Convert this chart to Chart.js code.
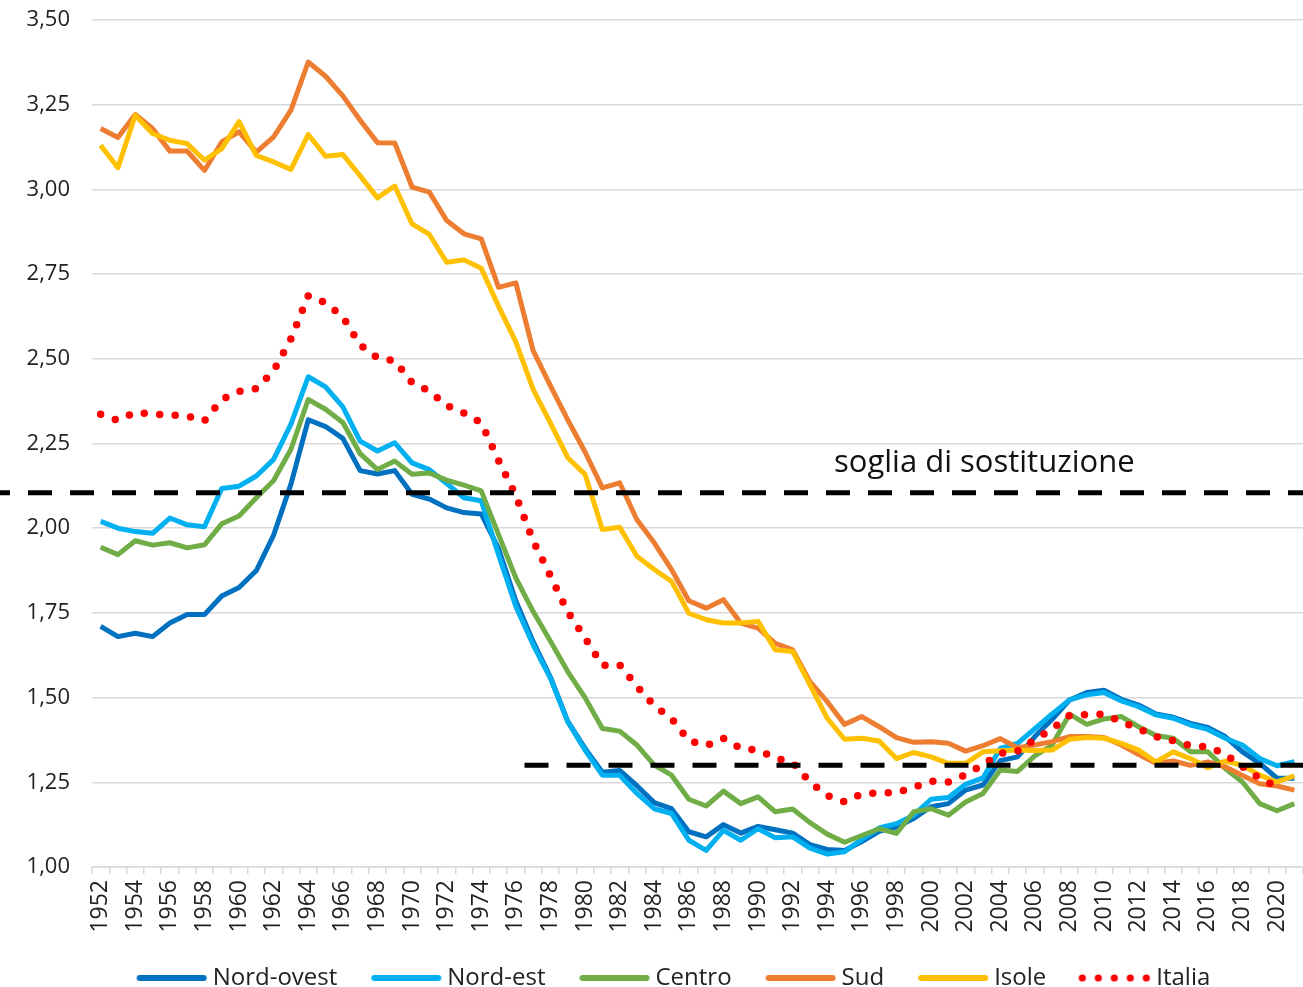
<!DOCTYPE html>
<html>
<head>
<meta charset="utf-8">
<script src="https://cdn.jsdelivr.net/npm/chart.js@4.4.1/dist/chart.umd.min.js"></script>
<style>
  html, body { margin: 0; padding: 0; background: #fff; overflow: hidden; }
  #wrap { width: 1303px; height: 987px; }
</style>
</head>
<body>
<div id="wrap"><canvas id="myChart"></canvas></div>
<script>
// anni
const years = [1952, 1953, 1954, 1955, 1956, 1957, 1958, 1959, 1960, 1961,
  1962, 1963, 1964, 1965, 1966, 1967, 1968, 1969, 1970, 1971,
  1972, 1973, 1974, 1975, 1976, 1977, 1978, 1979, 1980, 1981,
  1982, 1983, 1984, 1985, 1986, 1987, 1988, 1989, 1990, 1991,
  1992, 1993, 1994, 1995, 1996, 1997, 1998, 1999, 2000, 2001,
  2002, 2003, 2004, 2005, 2006, 2007, 2008, 2009, 2010, 2011,
  2012, 2013, 2014, 2015, 2016, 2017, 2018, 2019, 2020, 2021];

// numero medio di figli per donna
const nordOvest = [1.71, 1.68, 1.69, 1.68, 1.72, 1.745, 1.745, 1.80, 1.825, 1.875,
  1.98, 2.13, 2.32, 2.30, 2.265, 2.17, 2.16, 2.17, 2.10, 2.086,
  2.06, 2.046, 2.042, 1.94, 1.785, 1.665, 1.56, 1.43, 1.35, 1.28,
  1.285, 1.24, 1.19, 1.172, 1.104, 1.089, 1.125, 1.10, 1.12, 1.11,
  1.10, 1.066, 1.052, 1.049, 1.075, 1.105, 1.118, 1.143, 1.178, 1.187,
  1.227, 1.242, 1.314, 1.325, 1.385, 1.436, 1.493, 1.515, 1.522, 1.495,
  1.478, 1.452, 1.442, 1.424, 1.412, 1.385, 1.34, 1.306, 1.262, 1.262];

const nordEst = [2.02, 2.00, 1.99, 1.985, 2.03, 2.01, 2.004, 2.117, 2.124, 2.154,
  2.203, 2.307, 2.447, 2.417, 2.358, 2.257, 2.228, 2.252, 2.193, 2.173,
  2.132, 2.09, 2.081, 1.922, 1.769, 1.656, 1.557, 1.429, 1.345, 1.271,
  1.271, 1.217, 1.172, 1.158, 1.079, 1.049, 1.108, 1.079, 1.113, 1.086,
  1.089, 1.056, 1.038, 1.045, 1.082, 1.115, 1.128, 1.153, 1.20, 1.205,
  1.244, 1.263, 1.35, 1.365, 1.408, 1.452, 1.493, 1.508, 1.515, 1.49,
  1.473, 1.449, 1.439, 1.419, 1.406, 1.38, 1.36, 1.32, 1.299, 1.311];

const centro = [1.944, 1.922, 1.963, 1.95, 1.957, 1.942, 1.951, 2.013, 2.036, 2.09,
  2.141, 2.233, 2.38, 2.351, 2.312, 2.22, 2.173, 2.198, 2.159, 2.163,
  2.142, 2.127, 2.11, 1.981, 1.853, 1.754, 1.666, 1.577, 1.50, 1.409,
  1.401, 1.36, 1.301, 1.271, 1.20, 1.18, 1.224, 1.187, 1.207, 1.163,
  1.171, 1.131, 1.097, 1.073, 1.093, 1.113, 1.099, 1.163, 1.172, 1.153,
  1.192, 1.217, 1.286, 1.282, 1.328, 1.36, 1.451, 1.421, 1.437, 1.444,
  1.414, 1.388, 1.38, 1.34, 1.34, 1.291, 1.251, 1.187, 1.166, 1.187];

const sud = [3.18, 3.153, 3.221, 3.18, 3.113, 3.113, 3.056, 3.14, 3.17, 3.11,
  3.155, 3.234, 3.376, 3.334, 3.276, 3.204, 3.138, 3.137, 3.007, 2.992,
  2.908, 2.869, 2.854, 2.711, 2.724, 2.524, 2.42, 2.32, 2.225, 2.119,
  2.134, 2.025, 1.957, 1.878, 1.786, 1.764, 1.789, 1.72, 1.705, 1.66,
  1.641, 1.547, 1.488, 1.421, 1.444, 1.414, 1.382, 1.368, 1.37, 1.365,
  1.342, 1.358, 1.379, 1.352, 1.36, 1.37, 1.385, 1.385, 1.382, 1.36,
  1.332, 1.306, 1.313, 1.30, 1.31, 1.296, 1.27, 1.246, 1.239, 1.227];

const isole = [3.13, 3.064, 3.219, 3.165, 3.145, 3.135, 3.086, 3.12, 3.20, 3.10,
  3.081, 3.059, 3.162, 3.098, 3.103, 3.04, 2.975, 3.01, 2.898, 2.867,
  2.785, 2.792, 2.767, 2.655, 2.55, 2.41, 2.31, 2.208, 2.159, 1.996,
  2.003, 1.917, 1.878, 1.843, 1.749, 1.73, 1.72, 1.72, 1.725, 1.641,
  1.636, 1.538, 1.439, 1.377, 1.38, 1.372, 1.32, 1.338, 1.325, 1.306,
  1.306, 1.34, 1.343, 1.345, 1.344, 1.345, 1.377, 1.382, 1.38, 1.365,
  1.345, 1.31, 1.34, 1.32, 1.293, 1.313, 1.30, 1.271, 1.251, 1.269];

const italia = [2.336, 2.318, 2.342, 2.337, 2.334, 2.331, 2.317, 2.38, 2.404, 2.412,
  2.464, 2.559, 2.686, 2.665, 2.624, 2.541, 2.503, 2.494, 2.43, 2.405,
  2.362, 2.34, 2.311, 2.20, 2.096, 1.963, 1.859, 1.753, 1.676, 1.595,
  1.597, 1.533, 1.476, 1.438, 1.373, 1.358, 1.38, 1.35, 1.345, 1.322,
  1.308, 1.251, 1.211, 1.192, 1.216, 1.219, 1.219, 1.235, 1.253, 1.251,
  1.272, 1.302, 1.336, 1.342, 1.376, 1.408, 1.447, 1.45, 1.451, 1.429,
  1.408, 1.385, 1.373, 1.358, 1.355, 1.333, 1.296, 1.262, 1.237, null];

// soglie
const sogliaSostituzione = 2.105;
const bassaFecondita = 1.3;
const bassaFeconditaDal = 1976.5;

const FONT = '"Open Sans", sans-serif';

// campione per la legenda (linea o puntini)
function legendSample(color, dotted) {
  const c = document.createElement('canvas');
  c.width = 112;
  c.height = 8;
  const g = c.getContext('2d');
  g.fillStyle = color;
  g.strokeStyle = color;
  if (dotted) {
    for (let i = 0; i < 5; i++) {
      g.beginPath();
      g.arc(42 + i * 16, 4, 3.6, 0, Math.PI * 2);
      g.fill();
    }
  } else {
    g.lineWidth = 6;
    g.lineCap = 'round';
    g.beginPath();
    g.moveTo(43, 4);
    g.lineTo(107, 4);
    g.stroke();
  }
  return c;
}

function serie(label, data, color, order) {
  return {
    label: label,
    data: data,
    borderColor: color,
    backgroundColor: color,
    borderWidth: 5,
    borderJoinStyle: 'round',
    pointRadius: 0,
    pointStyle: legendSample(color, false),
    tension: 0,
    order: order
  };
}

const italiaSet = {
  label: 'Italia',
  data: italia,
  borderColor: '#ff0000',
  backgroundColor: '#ff0000',
  borderWidth: 7.5,
  borderDash: [0, 15.5],
  borderCapStyle: 'round',
  pointRadius: 0,
  pointStyle: legendSample('#ff0000', true),
  tension: 0,
  order: 0
};

// linee tratteggiate e testo
const soglie = {
  id: 'soglie',
  afterDatasetsDraw(chart) {
    const ctx = chart.ctx;
    const x = chart.scales.x;
    const y = chart.scales.y;
    ctx.save();
    ctx.strokeStyle = '#000';
    ctx.lineWidth = 5;
    ctx.setLineDash([24, 18]);

    const y1 = y.getPixelForValue(sogliaSostituzione);
    ctx.lineDashOffset = 14;
    ctx.beginPath();
    ctx.moveTo(0, y1);
    ctx.lineTo(chart.width, y1);
    ctx.stroke();

    const y2 = y.getPixelForValue(bassaFecondita);
    const x2 = x.getPixelForValue(years.indexOf(Math.floor(bassaFeconditaDal)) + 0.5);
    ctx.lineDashOffset = 0;
    ctx.beginPath();
    ctx.moveTo(x2, y2);
    ctx.lineTo(chart.width, y2);
    ctx.stroke();

    ctx.setLineDash([]);
    ctx.fillStyle = '#111';
    ctx.font = '31px ' + FONT;
    ctx.textBaseline = 'alphabetic';
    ctx.textAlign = 'left';
    ctx.fillText('soglia di sostituzione', 834, y1 - 21);
    ctx.restore();
  }
};

const ctx = document.getElementById('myChart').getContext('2d');
const chart = new Chart(ctx, {
  type: 'line',
  data: {
    labels: years,
    datasets: [
      serie('Nord-ovest', nordOvest, '#0070c0', 5),
      serie('Nord-est', nordEst, '#00b0f0', 4),
      serie('Centro', centro, '#70ad47', 3),
      serie('Sud', sud, '#ed7d31', 2),
      serie('Isole', isole, '#ffc000', 1),
      italiaSet
    ]
  },
  plugins: [soglie],
  options: {
    responsive: true,
    maintainAspectRatio: false,
    animation: false,
    events: [],
    layout: { padding: { top: 20, right: 0, bottom: -13, left: 12 } },
    plugins: {
      tooltip: { enabled: false },
      legend: {
        position: 'bottom',
        labels: {
          usePointStyle: true,
          pointStyleWidth: 96,
          boxHeight: 8,
          padding: 2,
          color: '#222',
          font: { family: FONT, size: 24 },
          sort: (a, b) => a.datasetIndex - b.datasetIndex
        }
      }
    },
    scales: {
      x: {
        offset: true,
        grid: {
          offset: true,
          drawOnChartArea: false,
          drawTicks: true,
          tickLength: 7,
          tickColor: '#d9d9d9',
          lineWidth: 1.5
        },
        border: { display: true, color: '#d9d9d9', width: 1.5 },
        ticks: {
          autoSkip: false,
          minRotation: 90,
          maxRotation: 90,
          padding: 6,
          color: '#222',
          font: { family: FONT, size: 23 },
          callback: function (value, index) {
            return index % 2 === 0 ? this.getLabelForValue(value) : '';
          }
        },
        afterFit: (scale) => {
          scale.height = 97;
          scale.paddingLeft = 0;
          scale.paddingRight = 0;
        }
      },
      y: {
        min: 1,
        max: 3.5,
        grid: { color: '#d9d9d9', lineWidth: 1.5, drawTicks: false },
        border: { display: false },
        ticks: {
          stepSize: 0.25,
          padding: 22,
          color: '#222',
          font: { family: FONT, size: 22 },
          callback: (v) => v.toFixed(2).replace('.', ',')
        },
        afterFit: (scale) => {
          scale.width = 80;
          scale.paddingTop = 0;
          scale.paddingBottom = 0;
        }
      }
    }
  }
});
</script>
</body>
</html>
